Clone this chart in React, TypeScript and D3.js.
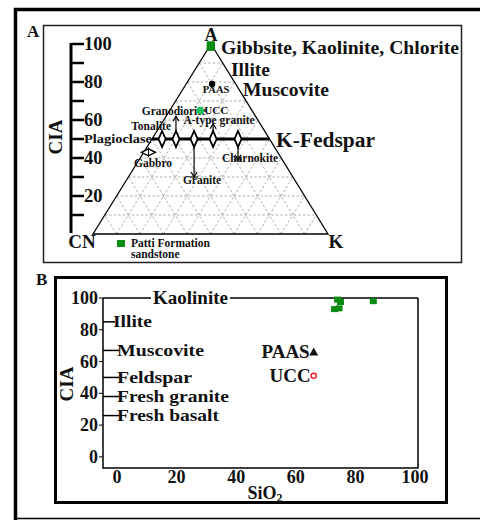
import { scaleLinear, range, line } from 'd3'

// ---- panel A : A-CN-K ternary ----
const ciaTicks = range(10, 101, 10)
const ciaLabels = [20, 40, 60, 80, 100]
const gridSteps = range(10, 100, 10)

// [A, CN, K] in %
const pattiA = [[99, 0.6, 0.4], [98.2, 1.0, 0.8], [99.6, 0.2, 0.2]]
const paasTern = [79, 10, 11]
const uccTern = [65, 22, 13]
const gabbroTern = [43, 55, 2]

const rocks = ['Tonalite', 'Granodiorite', 'Granite', 'A-type granite', 'Charnokite']
const rocksK = [4.3, 10.2, 17.9, 26, 36.6]       // K% on the feldspar join
const rocksEnd = [null, 62, 30, 58, 39]          // CIA at arrow tip
const rockLabelOff = [[-11, -9], [-2, -24], [8, 45], [6, -15], [12, 23]]

// ---- panel B : CIA vs SiO2 ----
const minerals = ['Kaolinite', 'Illite', 'Muscovite', 'Feldspar', 'Fresh granite', 'Fresh basalt']
const mineralCIA = [100, 85, 67, 50, 38, 26]
const mineralLabelW = [75, 39, 87, 75, 112, 102]
const pattiSiO2 = [74, 75, 73, 74.5, 86]
const pattiCIA = [99, 97.5, 93, 93.5, 98]
const paasB = [66, 66]
const uccB = [66, 51]
const xTicksB = [0, 20, 40, 60, 80, 100]
const yTicksB = [0, 20, 40, 60, 80, 100]

const font = '"Liberation Serif", "Times New Roman", serif'
const green = '#0b8c12'

const yA = scaleLinear().domain([0, 100]).range([234, 44])
const cnX = 93, kX = 328, aX = 211

const tern = (a: number, cn: number, k: number): [number, number] => {
  const s = a + cn + k
  return [(cnX * cn + kX * k + aX * a) / s, yA(100 * a / s)]
}

const xB = scaleLinear().domain([-4.7, 101]).range([103, 418])
const yB = scaleLinear().domain([-7, 100]).range([468, 298])

const T = (p: any) => (
  <text fontFamily={font} fontWeight="bold" fill="#111" {...p}>{p.children}</text>
)

export default function App() {
  const seg = line()
  const gridLines: [number, number][][] = []
  gridSteps.forEach(v => {
    gridLines.push([tern(v, 100 - v, 0), tern(v, 0, 100 - v)])
    gridLines.push([tern(0, 100 - v, v), tern(100 - v, 0, v)])
    gridLines.push([tern(0, v, 100 - v), tern(100 - v, v, 0)])
  })
  const tri = seg([tern(100, 0, 0), tern(0, 100, 0), tern(0, 0, 100), tern(100, 0, 0)])
  const joinY = yA(50)
  const plag = tern(50, 50, 0), kfs = tern(50, 0, 50)
  const paas = tern(paasTern[0], paasTern[1], paasTern[2])
  const ucc = tern(uccTern[0], uccTern[1], uccTern[2])
  const gab = tern(gabbroTern[0], gabbroTern[1], gabbroTern[2])

  const diamond = (x: number, y: number) =>
    `M${x},${y - 8}L${x + 3.5},${y}L${x},${y + 8}L${x - 3.5},${y}Z`

  return (
    <svg width={480} height={520} style={{ position: 'absolute', left: 0, top: 0, background: '#fff' }}>
      {/* outer frame */}
      <path d="M15.5,520V9.5H480" fill="none" stroke="#000" strokeWidth={3.5} />
      <line x1={14} x2={480} y1={518.5} y2={518.5} stroke="#000" strokeWidth={1.5} />

      {/* ===== panel A ===== */}
      <rect x={43.5} y={25.5} width={418} height={237} fill="none" stroke="#222" strokeWidth={1.5} />
      <T x={27} y={37} fontSize={17}>A</T>

      {gridLines.map((l, i) => (
        <path key={i} d={seg(l) as string} stroke="#777" strokeWidth={0.6} strokeDasharray="2.5,2" fill="none" />
      ))}
      <path d={tri as string} fill="none" stroke="#000" strokeWidth={1.3} />

      {/* CIA axis */}
      <line x1={71} x2={71} y1={yA(100) - 1} y2={yA(0) - 1} stroke="#000" strokeWidth={3} />
      {ciaTicks.map(t => (
        <line key={t} x1={71} x2={84} y1={yA(t)} y2={yA(t)} stroke="#000" strokeWidth={2.5} />
      ))}
      {ciaLabels.map(t => (
        <T key={t} x={84} y={yA(t) + 6} fontSize={18.5}>{t}</T>
      ))}
      <T transform="translate(62,137) rotate(-90)" textAnchor="middle" fontSize={19}>CIA</T>

      {/* feldspar join */}
      <line x1={plag[0]} x2={kfs[0]} y1={joinY} y2={joinY} stroke="#000" strokeWidth={3} />
      <T x={84} y={joinY + 4} fontSize={12} textLength={68} lengthAdjust="spacingAndGlyphs">Plagioclase</T>
      <T x={276} y={147} fontSize={20} textLength={99} lengthAdjust="spacingAndGlyphs">K-Fedspar</T>

      {rocks.map((r, i) => {
        const x = plag[0] + (kfs[0] - plag[0]) * rocksK[i] / 50
        const end = rocksEnd[i]
        const ey = end == null ? null : yA(end)
        const up = ey != null && ey < joinY
        return (
          <g key={r}>
            {ey != null && (
              <>
                <line x1={x} x2={x} y1={joinY} y2={ey} stroke="#000" strokeWidth={1.2} />
                <path d={up ? `M${x - 3},${ey + 5}L${x},${ey}L${x + 3},${ey + 5}` : `M${x - 3},${ey - 5}L${x},${ey}L${x + 3},${ey - 5}`}
                  fill="none" stroke="#000" strokeWidth={1.2} />
                {!up && <line x1={x - 4} x2={x + 4} y1={ey} y2={ey} stroke="#000" strokeWidth={1} />}
              </>
            )}
            <path d={diamond(x, joinY)} fill="#fff" stroke="#000" strokeWidth={1.8} />
            <T x={x + rockLabelOff[i][0]} y={joinY + rockLabelOff[i][1]} fontSize={11.5} textAnchor="middle">{r}</T>
          </g>
        )
      })}

      {/* gabbro */}
      <path d={`M${gab[0] - 7},${gab[1]}L${gab[0]},${gab[1] - 3.5}L${gab[0] + 7},${gab[1]}L${gab[0]},${gab[1] + 3.5}Z`}
        fill="#fff" stroke="#000" strokeWidth={1.4} />
      <line x1={gab[0]} x2={gab[0]} y1={gab[1] - 5} y2={gab[1] + 5} stroke="#000" strokeWidth={1} />
      <T x={gab[0] + 4.6} y={gab[1] + 15} fontSize={11.5} textAnchor="middle">Gabbro</T>

      {/* PAAS, UCC */}
      <circle cx={paas[0]} cy={paas[1]} r={3.2} fill="#000" />
      <T x={paas[0] + 4} y={paas[1] + 9} fontSize={10.5} textAnchor="middle">PAAS</T>
      <circle cx={ucc[0]} cy={ucc[1]} r={3.8} fill="#22c05a" />
      <T x={ucc[0] + 4} y={ucc[1] + 3} fontSize={11}>UCC</T>

      {/* samples */}
      {pattiA.map((p, i) => {
        const [x, y] = tern(p[0], p[1], p[2])
        return <rect key={i} x={x - 4} y={y - 3.5} width={8} height={7} fill={green} />
      })}

      <T x={aX} y={41} fontSize={18} textAnchor="middle">A</T>
      <T x={221} y={54} fontSize={19.5} textLength={238} lengthAdjust="spacingAndGlyphs">Gibbsite, Kaolinite, Chlorite</T>
      <T x={231} y={76} fontSize={19.5}>Illite</T>
      <T x={243} y={96} fontSize={19.5} textLength={86} lengthAdjust="spacingAndGlyphs">Muscovite</T>
      <T x={82} y={248} fontSize={19} textAnchor="middle">CN</T>
      <T x={kX + 8} y={248} fontSize={19} textAnchor="middle">K</T>

      <rect x={117} y={240} width={8} height={7} fill={green} />
      <T x={131} y={247} fontSize={11.5}>Patti Formation</T>
      <T x={131} y={258} fontSize={11.5}>sandstone</T>

      {/* ===== panel B ===== */}
      <rect x={55.5} y={277.5} width={391} height={225} fill="none" stroke="#000" strokeWidth={3} />
      <T x={36} y={285} fontSize={17}>B</T>

      <path d={`M${xB(-4.7)},${yB(100)}V${yB(-7)}H${xB(101)}V${yB(100)}`} fill="none" stroke="#000" strokeWidth={1.5} />
      {yTicksB.map(t => (
        <g key={t}>
          <line x1={99} x2={103} y1={yB(t)} y2={yB(t)} stroke="#000" strokeWidth={1} />
          <T x={98} y={yB(t) + 6} fontSize={18} textAnchor="end">{t}</T>
        </g>
      ))}
      {xTicksB.map(t => (
        <T key={t} x={xB(t)} y={483} fontSize={18} textAnchor="middle">{t}</T>
      ))}
      <T transform="translate(73,384) rotate(-90)" textAnchor="middle" fontSize={19}>CIA</T>
      <T x={265} y={499} fontSize={18} textAnchor="middle">SiO<tspan fontSize={12} dy={3}>2</tspan></T>

      {minerals.map((m, i) => {
        const y = yB(mineralCIA[i])
        if (i === 0) {
          return (
            <g key={m}>
              <line x1={xB(-4.7)} x2={xB(101)} y1={y} y2={y} stroke="#000" strokeWidth={1.5} />
              <rect x={151} y={y - 8} width={79} height={16} fill="#fff" />
              <T x={153} y={y + 6} fontSize={18} textLength={mineralLabelW[i]} lengthAdjust="spacingAndGlyphs">{m}</T>
            </g>
          )
        }
        return (
          <g key={m}>
            <line x1={xB(-4.7)} x2={i === 1 ? 115 : 119} y1={y} y2={y} stroke="#000" strokeWidth={1.5} />
            <T x={i === 1 ? 113 : 117} y={y + 5.5} fontSize={16} textLength={mineralLabelW[i]} lengthAdjust="spacingAndGlyphs">{m}</T>
          </g>
        )
      })}

      {pattiSiO2.map((s, i) => (
        <rect key={i} x={xB(s) - 3.5} y={yB(pattiCIA[i]) - 3} width={7} height={6} fill={green} />
      ))}

      <path d={`M${xB(paasB[0])},${yB(paasB[1]) - 4.5}L${xB(paasB[0]) + 4.5},${yB(paasB[1]) + 3.5}L${xB(paasB[0]) - 4.5},${yB(paasB[1]) + 3.5}Z`} fill="#111" />
      <T x={xB(paasB[0]) - 4} y={yB(paasB[1]) + 6} fontSize={19} textAnchor="end">PAAS</T>
      <circle cx={xB(uccB[0])} cy={yB(uccB[1])} r={2.6} fill="#fff" stroke="#e8141e" strokeWidth={1.3} />
      <T x={xB(uccB[0]) - 3} y={yB(uccB[1]) + 6} fontSize={19} textAnchor="end">UCC</T>
    </svg>
  )
}
